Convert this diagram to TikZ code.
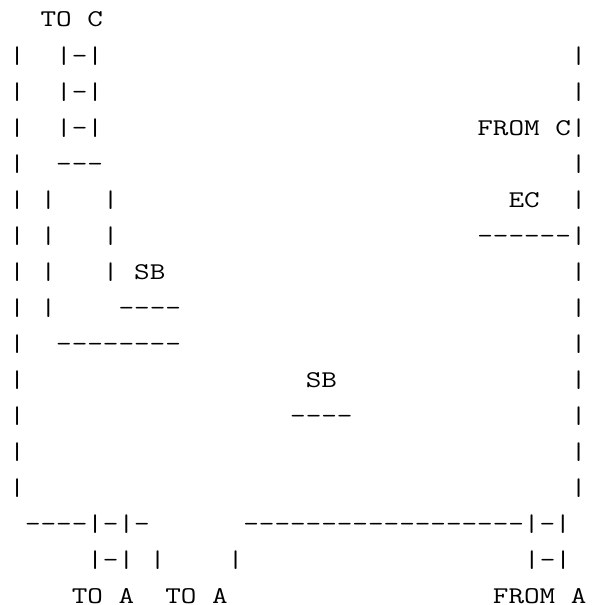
\documentclass[tikz,border=0pt]{standalone}
\usepackage{fontspec}
\setmonofont[FakeStretch=1.2615]{Latin Modern Mono}
\tikzset{
    asciirow/.style={
        anchor=base west,
        inner sep=0pt,
        font=\fontsize{24}{24}\selectfont\ttfamily
    }
}
\newcommand{\colgap}[1]{\hspace*{#1\dimexpr15.6pt\relax}}

\begin{document}
\begin{tikzpicture}[x=1pt,y=-1pt]
\useasboundingbox (0,0) rectangle (592,605);

% The upper rows
\node[asciirow] (toc)    at (9.2,27)  {\colgap{2}TO C};
\node[asciirow] (rowa)   at (9.2,63)  {|\colgap{2}|-|\colgap{30}|};
\node[asciirow] (rowb)   at (9.2,99)  {|\colgap{2}|-|\colgap{30}|};
\node[asciirow] (fromc)  at (9.2,135) {|\colgap{2}|-|\colgap{24}FROM C|};
\node[asciirow] (rowc)   at (9.2,171) {|\colgap{2}---\colgap{30}|};
\node[asciirow] (ec)     at (9.2,207) {|\colgap{1}|\colgap{3}|\colgap{25}EC\colgap{2}|};
\node[asciirow] (ecbar)  at (9.2,243) {|\colgap{1}|\colgap{3}|\colgap{23}------|};
\node[asciirow] (sbin)   at (9.2,279) {|\colgap{1}|\colgap{3}|\colgap{1}SB\colgap{26}|};
\node[asciirow] (sbbar)  at (9.2,315) {|\colgap{1}|\colgap{4}----\colgap{25}|};
\node[asciirow] (rowd)   at (9.2,351) {|\colgap{2}--------\colgap{25}|};

% The middle rows
\node[asciirow] (sbout)  at (9.2,387) {|\colgap{18}SB\colgap{15}|};
\node[asciirow] (sbline) at (9.2,423) {|\colgap{17}----\colgap{14}|};
\node[asciirow] (rowe)   at (9.2,459) {|\colgap{35}|};
\node[asciirow] (rowf)   at (9.2,495) {|\colgap{35}|};

% The lower rows
\node[asciirow] (rowg)   at (9.2,531) {\colgap{1}----|-|-\colgap{6}------------------|-|};
\node[asciirow] (rowh)   at (9.2,567) {\colgap{5}|-|\colgap{1}|\colgap{4}|\colgap{18}|-|};
\node[asciirow] (toa)    at (9.2,603) {\colgap{4}TO A\colgap{2}TO A\colgap{17}FROM A};
\end{tikzpicture}
\end{document}
